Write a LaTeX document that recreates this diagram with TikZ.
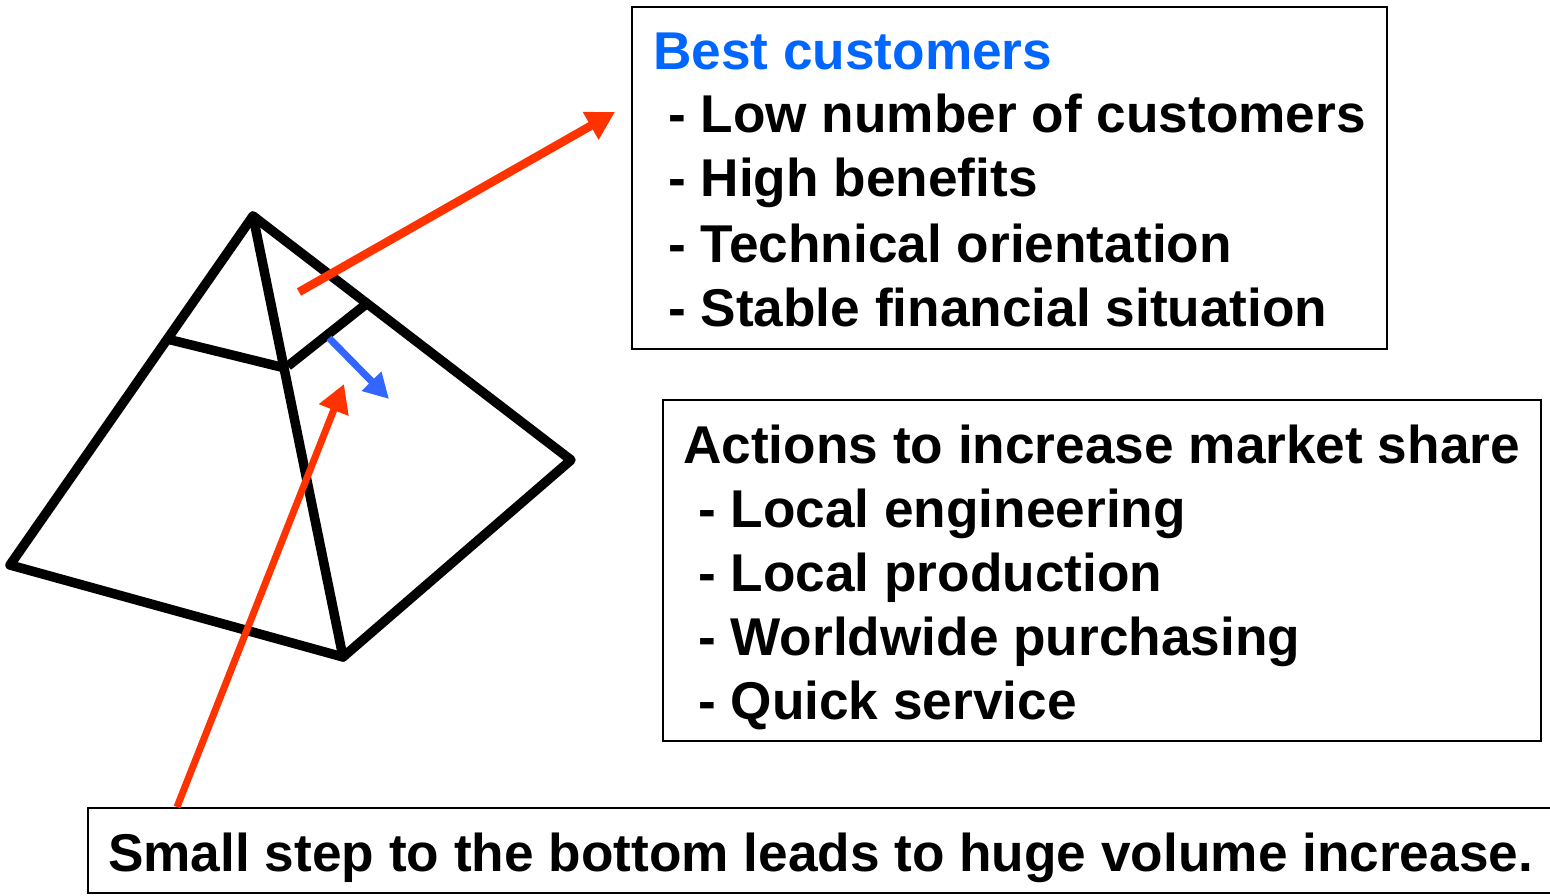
\documentclass[tikz,border=0pt]{standalone}
\usepackage{fontspec}
\setmainfont{Liberation Sans}
\usetikzlibrary{arrows.meta}
\definecolor{redarr}{HTML}{FF3300}
\definecolor{bluearr}{HTML}{3366FF}
\definecolor{bluetxt}{HTML}{0066FF}
\begin{document}
\begin{tikzpicture}[x=1pt,y=-1pt,
  box/.style={draw=black,line width=1.8pt,rectangle,inner sep=0pt},
  txt/.style={anchor=base west,inner sep=0pt,font=\fontsize{53.2}{62}\bfseries\selectfont},
  pyr/.style={line width=9.5pt,line join=round,line cap=round},
  redarrow/.style={draw=redarr,line width=8.5pt,-{Triangle[length=28pt,width=30pt]}},
  bluearrow/.style={draw=bluearr,line width=7pt,-{Triangle[length=25pt,width=26pt]}}]
\useasboundingbox (0,0) rectangle (1550,896);
% boxes
\node[box,minimum width=755pt,minimum height=342pt,anchor=north west] (b1) at (631,6) {};
\node[box,minimum width=878pt,minimum height=341pt,anchor=north west] (b2) at (662,399) {};
\node[box,minimum width=1470pt,minimum height=85pt,anchor=north west] (b3) at (87,807) {};
% texts
\node[txt,text=bluetxt] (t0) at (653,70) {Best customers};
\node[txt] (t1) at (668,133) {- Low number of customers};
\node[txt] (t2) at (668,197) {- High benefits};
\node[txt] (t3) at (668,262) {- Technical orientation};
\node[txt] (t4) at (668,326) {- Stable financial situation};
\node[txt] (a0) at (683,463) {Actions to increase market share};
\node[txt] (a1) at (698,527) {- Local engineering};
\node[txt] (a2) at (698,591) {- Local production};
\node[txt] (a3) at (698,655) {- Worldwide purchasing};
\node[txt] (a4) at (698,719) {- Quick service};
\node[txt] (s0) at (108,871) {Small step to the bottom leads to huge volume increase.};
% pyramid
\coordinate (apex) at (253,216);
\coordinate (pl) at (10,565);
\coordinate (pb) at (343,657);
\coordinate (pr) at (571,460);
\coordinate (cl) at (167,339);
\coordinate (cm) at (285,368);
\coordinate (cm2) at (288,366);
\coordinate (cr) at (365,305);
\draw[pyr] (apex) -- (pl) -- (pb) -- (pr) -- cycle;
\draw[pyr] (apex) -- (pb);
\draw[pyr,line cap=butt] (cl) -- (cm);
\draw[pyr,line cap=butt] (cm2) -- (cr);
% arrows
\coordinate (r1s) at (299,292);
\coordinate (r1e) at (615,112);
\draw[redarrow] (r1s) -- (r1e);
\coordinate (r2s) at (177,807);
\coordinate (r2e) at (344,384);
\draw[redarrow,line width=7pt] (r2s) -- (r2e);
\coordinate (bs) at (329,338);
\coordinate (be) at (389,399);
\draw[bluearrow] (bs) -- (be);
\end{tikzpicture}
\end{document}
